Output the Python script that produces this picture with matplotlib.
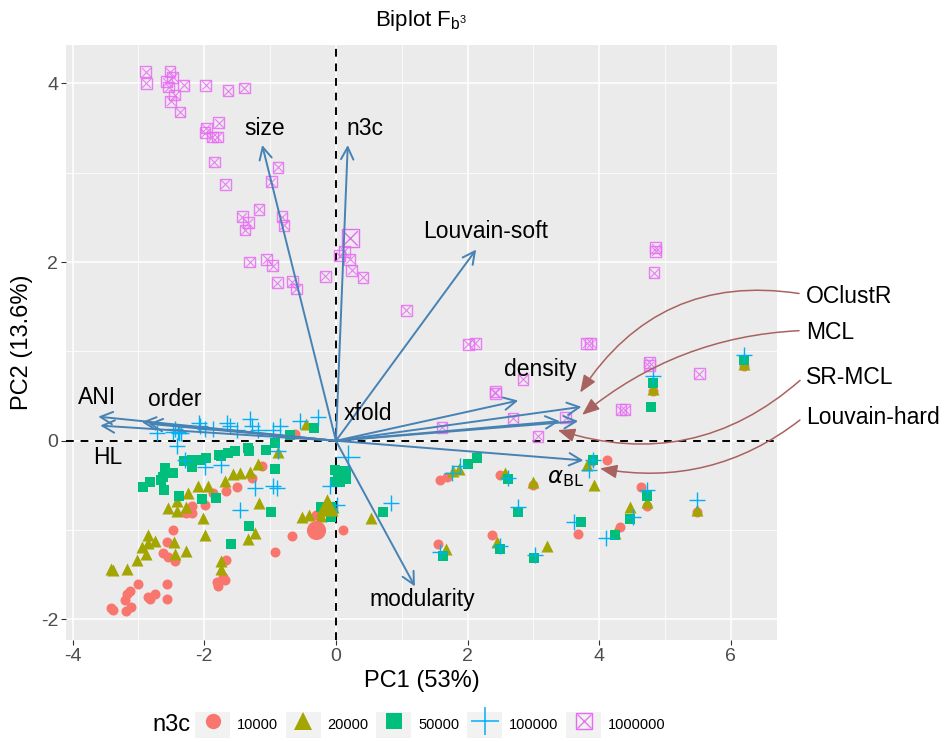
import matplotlib
matplotlib.use("Agg")
import matplotlib.pyplot as plt
from matplotlib.lines import Line2D
from matplotlib.patches import Rectangle
from matplotlib.legend_handler import HandlerTuple

plt.rcParams["font.family"] = ["Liberation Sans", "DejaVu Sans"]
plt.rcParams["mathtext.fontset"] = "dejavusans"
plt.rcParams["axes.unicode_minus"] = False

# ---- PCA scores, grouped by n3c ----
n3c_levels = ["10000", "20000", "50000", "100000", "1000000"]

x_10000 = [-0.62, -1.12, -1.28, -1.50, -1.67, -1.86, -1.99, -2.18, -2.28, -2.19, -2.47, -2.57,
           -2.63, -2.55, -2.45, -3.00, -3.13, -3.18, -3.21, -3.11, -3.19, -3.41, -3.38, -2.85,
           -2.75, -2.83, -2.56, -2.56, -1.67, -1.71, -1.81, -1.79, -1.68, -0.92, -0.66, -0.30,
           0.11, 1.58, 1.68, 1.55, 2.50, 3.00, 2.37, 3.67, 4.12, 3.89, 4.82, 6.20, 4.63, 4.72,
           5.48, 4.32]
y_10000 = [0.08, -0.28, -0.42, -0.52, -0.56, -0.59, -0.72, -0.73, -0.81, -0.81, -1.00, -1.13,
           -1.26, -1.30, -1.35, -1.60, -1.68, -1.71, -1.78, -1.86, -1.91, -1.87, -1.89, -1.75,
           -1.72, -1.77, -1.60, -1.77, -1.33, -1.52, -1.58, -1.63, -1.56, -1.25, -1.07, -0.83,
           -1.00, -0.44, -0.41, -1.15, -0.38, -0.49, -1.05, -1.04, -0.22, -0.23, 0.56, 0.84,
           -0.52, -0.73, -0.80, -0.97]

x_20000 = [-0.45, -0.88, -1.18, -1.31, -1.46, -1.56, -1.68, -1.94, -2.09, -2.24, -2.42, -2.55,
           -2.42, -2.27, -2.02, -1.99, -2.85, -2.85, -2.75, -2.95, -2.88, -3.02, -2.46, -2.44,
           -2.28, -3.41, -3.38, -3.17, -1.23, -1.34, -1.74, -1.74, -1.17, -0.51, -0.41, -0.22,
           -0.04, 0.53, 1.78, 1.87, 1.67, 2.57, 3.00, 3.92, 3.82, 2.44, 3.20, 4.24, 4.47, 4.72,
           5.48, 4.82, 6.20]
y_20000 = [0.19, -0.13, -0.26, -0.35, -0.36, -0.37, -0.45, -0.51, -0.51, -0.59, -0.67, -0.75,
           -0.79, -0.74, -0.87, -1.06, -1.05, -1.14, -1.12, -1.19, -1.27, -1.34, -1.13, -1.27,
           -1.23, -1.44, -1.45, -1.44, -1.03, -1.10, -1.35, -1.44, -0.70, -0.85, -0.83, -0.84,
           -0.74, -0.87, -0.34, -0.32, -1.21, -0.36, -0.46, -0.49, -0.27, -1.13, -1.18, -1.03,
           -0.74, -0.69, -0.77, 0.58, 0.86]

x_50000 = [-0.33, -0.70, -0.93, -1.06, -1.33, -1.32, -1.53, -1.64, -1.77, -1.74, -1.97, -2.07,
           -2.18, -2.19, -2.30, -2.60, -2.47, -2.63, -2.65, -2.58, -2.83, -2.93, -2.61, -2.38,
           -2.03, -1.82, -0.93, -0.98, -1.32, -1.60, -0.07, -0.22, -0.07, 0.03, 0.11, 0.06,
           -0.02, -0.02, 0.72, 2.01, 2.14, 1.62, 2.62, 2.76, 2.50, 3.01, 3.72, 3.91, 4.24, 4.82,
           4.79, 6.20, 4.72, 4.46]
y_50000 = [0.14, 0.07, -0.02, -0.10, -0.08, -0.12, -0.11, -0.14, -0.16, -0.17, -0.19, -0.21,
           -0.21, -0.29, -0.23, -0.31, -0.36, -0.40, -0.44, -0.36, -0.46, -0.52, -0.55, -0.62,
           -0.65, -0.64, -0.32, -0.80, -0.95, -1.16, -0.74, -0.74, -0.85, -0.34, -0.40, -0.46,
           -0.33, -0.46, -0.80, -0.26, -0.19, -1.29, -0.43, -0.80, -1.21, -1.31, -0.91, -0.21,
           -1.05, 0.65, 0.38, 0.90, -0.62, -0.88]

x_100000 = [-2.72, -2.45, -2.40, -2.35, -2.07, -1.99, -1.86, -1.66, -1.61, -1.51, -1.31, -1.28,
            -1.18, -0.95, -0.85, -0.55, -0.27, -2.42, -2.29, -1.99, -1.74, -1.23, -0.95, -0.90,
            -1.46, -0.88, -0.09, 0.01, -2.48, -2.38, -2.08, 0.84, 1.88, 1.77, 1.58, 2.62, 2.76,
            3.02, 2.49, 3.62, 4.11, 3.91, 3.84, 4.82, 6.20, 4.72, 5.48, 4.52]
y_100000 = [0.09, 0.13, 0.10, 0.09, 0.16, 0.13, 0.13, 0.20, 0.16, 0.12, 0.24, 0.16,
            0.12, 0.12, 0.17, 0.22, 0.27, -0.06, -0.21, -0.29, -0.27, -0.53, -0.51, -0.53,
            -0.77, -0.11, -0.51, -0.72, 0.10, 0.09, 0.20, -0.70, -0.28, -0.36, -1.24, -0.42, -0.74,
            -1.28, -1.18, -0.91, -1.09, -0.21, -0.33, 0.72, 0.96, -0.55, -0.66, -0.85]

x_1000000 = [-2.89, -2.88, -2.52, -2.48, -2.57, -2.54, -2.45, -2.51, -2.31, -1.98, -1.64, -1.39,
             -2.37, -1.97, -1.78, -1.99, -1.88, -1.80, -1.85, -1.68, -0.88, -0.98, -1.17, -1.42,
             -1.33, -1.38, -0.82, -0.79, -1.31, -1.05, -0.96, -0.89, -0.66, -0.60, -0.16, 0.06,
             0.13, 0.21, 0.24, 0.41, 1.07, 2.01, 2.12, 2.84, 2.42, 2.42, 2.69, 3.49, 1.61, 3.07,
             3.81, 3.87, 4.86, 4.86, 4.83, 4.76, 4.76, 5.52, 4.33, 4.39]
y_1000000 = [4.13, 4.00, 4.13, 4.07, 4.02, 3.96, 3.87, 3.80, 3.98, 3.98, 3.92, 3.95,
             3.68, 3.50, 3.56, 3.45, 3.40, 3.40, 3.12, 2.87, 3.06, 2.90, 2.59, 2.51,
             2.44, 2.36, 2.51, 2.41, 2.00, 2.03, 1.96, 1.77, 1.78, 1.70, 1.84, 2.07,
             2.12, 2.03, 1.91, 1.83, 1.46, 1.08, 1.09, 0.69, 0.55, 0.53, 0.25, 0.26, 0.15, 0.05,
             1.09, 1.09, 2.16, 2.12, 1.88, 0.88, 0.84, 0.75, 0.35, 0.35]

# group means (drawn larger)
mean_x = [-0.30, -0.14, 0.09, 0.19, 0.22]
mean_y = [-1.00, -0.72, -0.38, -0.18, 2.27]

# ---- variable loadings (arrow tips) ----
load_names = ["size", "n3c", "Louvain-soft", "density", "OClustR", "MCL", "SR-MCL",
              "alpha_BL", "modularity", "ANI", "HL", "order", "xfold"]
load_x = [-1.12, 0.18, 2.13, 2.77, 3.73, 3.68, 3.40, 3.76, 1.20, -3.61, -3.58, -2.95, -2.85]
load_y = [3.31, 3.31, 2.14, 0.45, 0.38, 0.22, 0.22, -0.22, -1.63, 0.27, 0.17, 0.21, 0.19]

# arrow labels and where they sit
label_text = ["size", "n3c", "Louvain-soft", "density", "xfold", "ANI", "order", "HL",
              "modularity", r"$\alpha_{\mathrm{BL}}$"]
label_x = [-1.08, 0.44, 2.28, 3.10, 0.49, -3.63, -2.45, -3.47, 1.31, 3.48]
label_y = [3.50, 3.50, 2.34, 0.80, 0.30, 0.48, 0.46, -0.19, -1.78, -0.41]

# methods called out on the right
method_names = ["OClustR", "MCL", "SR-MCL", "Louvain-hard"]
method_tip_x = [3.71, 3.74, 3.37, 4.01]
method_tip_y = [0.54, 0.29, 0.12, -0.31]
method_text_y = [1.61, 1.21, 0.71, 0.26]
method_rad = [0.33, 0.17, -0.29, -0.23]

colors = ["#F8766D", "#A3A500", "#00BF7D", "#00B0F6", "#E76BF3"]
arrow_col = "#4682B4"
note_col = "#A8625F"

fig = plt.figure(figsize=(9.51, 7.42), dpi=100)
ax = fig.add_axes([66 / 951, 1 - 640 / 742, (777 - 66) / 951, (640 - 45) / 742])
ax.set_facecolor("#EBEBEB")
for s in ax.spines.values():
    s.set_visible(False)

ax.set_xlim(-4.1, 6.7)
ax.set_ylim(-2.23, 4.43)
ax.set_xticks([-4, -2, 0, 2, 4, 6])
ax.set_yticks([-2, 0, 2, 4])
ax.set_xticks([-3, -1, 1, 3, 5], minor=True)
ax.set_yticks([-1, 1, 3], minor=True)
ax.grid(which="major", color="white", lw=1.1)
ax.grid(which="minor", color="white", lw=0.55)
ax.set_axisbelow(True)
ax.tick_params(which="major", length=3.5, width=0.8, color="#333333",
               labelsize=14, labelcolor="#4D4D4D", pad=2)
ax.tick_params(which="minor", length=0)

ax.axhline(0, color="black", lw=1.4, ls=(0, (4, 3.5)), zorder=1.5)
ax.axvline(0, color="black", lw=1.4, ls=(0, (4, 3.5)), zorder=1.5)

# scores
ax.scatter(x_10000, y_10000, s=52, marker="o", color=colors[0], lw=0, zorder=2)
ax.scatter(x_20000, y_20000, s=75, marker="^", color=colors[1], lw=0, zorder=2)
ax.scatter(x_50000, y_50000, s=52, marker="s", color=colors[2], lw=0, zorder=2)
ax.scatter(x_100000, y_100000, s=140, marker="+", color=colors[3], lw=1.0, zorder=2)
ax.scatter(x_1000000, y_1000000, s=60, marker="s", facecolor="none",
           edgecolor=colors[4], lw=1.0, alpha=0.85, zorder=2)
ax.scatter(x_1000000, y_1000000, s=40, marker="x", color=colors[4], lw=0.8,
           alpha=0.85, zorder=2)

big_marker = ["o", "^", "s", "+", "s"]
big_size = [190, 260, 150, 300, 160]
for i in range(5):
    if i == 4:
        ax.scatter(mean_x[i], mean_y[i], s=big_size[i], marker="s", facecolor="none",
                   edgecolor=colors[i], lw=1.0, zorder=2)
        ax.scatter(mean_x[i], mean_y[i], s=110, marker="x", color=colors[i], lw=1.0, zorder=2)
    elif i == 3:
        ax.scatter(mean_x[i], mean_y[i], s=big_size[i], marker="+", color=colors[i],
                   lw=1.0, zorder=2)
    else:
        ax.scatter(mean_x[i], mean_y[i], s=big_size[i], marker=big_marker[i],
                   color=colors[i], lw=0, zorder=2)

# loading arrows
for name, lx, ly in zip(load_names, load_x, load_y):
    ax.annotate("", xy=(lx, ly), xytext=(0, 0),
                arrowprops=dict(arrowstyle="->,head_length=0.55,head_width=0.28",
                                color=arrow_col, lw=1.4, shrinkA=0, shrinkB=0,
                                mutation_scale=16),
                zorder=3)

for t, tx, ty in zip(label_text, label_x, label_y):
    ax.text(tx, ty, t, fontsize=16.5, ha="center", va="center", color="black", zorder=4)

# call-outs for the clustering methods
for name, tx, ty, yy, rad in zip(method_names, method_tip_x, method_tip_y,
                                 method_text_y, method_rad):
    ax.annotate(name, xy=(tx, ty), xytext=(7.14, yy), fontsize=16.5,
                ha="left", va="center", annotation_clip=False,
                arrowprops=dict(arrowstyle="-|>,head_length=0.75,head_width=0.3",
                                color=note_col, lw=1.1, shrinkA=3, shrinkB=0,
                                relpos=(0, 0.6), mutation_scale=14,
                                connectionstyle="arc3,rad=%.2f" % rad),
                zorder=5)

ax.set_xlabel("PC1 (53%)", fontsize=17, labelpad=4)
ax.set_ylabel("PC2 (13.6%)", fontsize=17, labelpad=6)
ax.set_title(r"Biplot $\mathregular{F_{b^3}}$", fontsize=16, pad=14)

# legend at the bottom
key_bg = "#F2F2F2"
handles = [
    (Rectangle((0, 0), 1, 1, facecolor=key_bg, edgecolor="none"),
     Line2D([], [], ls="none", marker="o", ms=11, color=colors[0], mew=0)),
    (Rectangle((0, 0), 1, 1, facecolor=key_bg, edgecolor="none"),
     Line2D([], [], ls="none", marker="^", ms=13, color=colors[1], mew=0)),
    (Rectangle((0, 0), 1, 1, facecolor=key_bg, edgecolor="none"),
     Line2D([], [], ls="none", marker="s", ms=11, color=colors[2], mew=0)),
    (Rectangle((0, 0), 1, 1, facecolor=key_bg, edgecolor="none"),
     Line2D([], [], ls="none", marker="+", ms=20, color=colors[3], mew=1.1)),
    (Rectangle((0, 0), 1, 1, facecolor=key_bg, edgecolor="none"),
     Line2D([], [], ls="none", marker="s", ms=12, mfc="none", mec=colors[4], mew=1.0),
     Line2D([], [], ls="none", marker="x", ms=10, color=colors[4], mew=0.9)),
]
fig.legend(handles, n3c_levels, loc="center left", bbox_to_anchor=(195 / 951, 0.023),
           ncol=5, frameon=False, fontsize=10.5, handlelength=2.4, handleheight=2.4,
           handletextpad=0.45, columnspacing=0.55, borderpad=0, borderaxespad=0,
           handler_map={tuple: HandlerTuple(ndivide=1, pad=0)})
fig.text(152 / 951, 0.023, "n3c", fontsize=17, ha="left", va="center")

fig.savefig("out.png", dpi=100)
